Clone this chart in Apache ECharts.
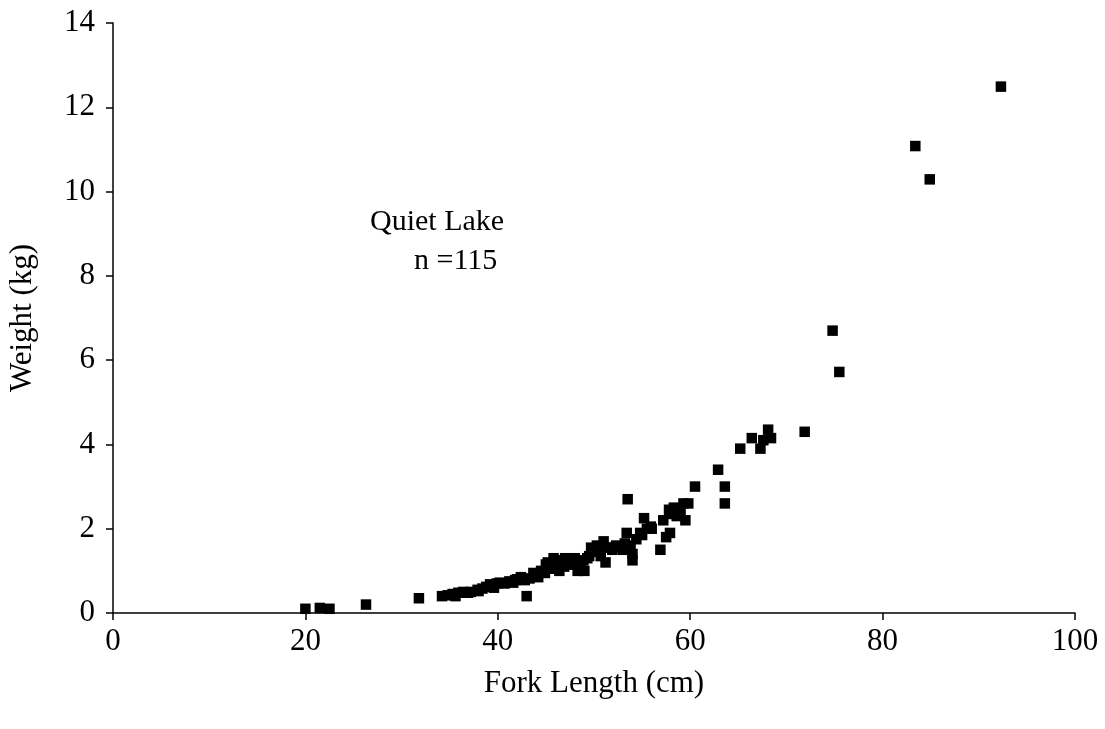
<!DOCTYPE html>
<html>
<head>
<meta charset="utf-8">
<script src="https://cdn.jsdelivr.net/npm/echarts@6/dist/echarts.min.js"></script>
<style>html,body{margin:0;padding:0;background:#fff}#c{width:1105px;height:729px}</style>
</head>
<body>
<div id="c"></div>
<script>
// Fork length (cm)
var forkLength = [
  20.0, 21.5, 22.5, 26.3, 31.8,
  34.2, 34.8, 35.3, 35.6, 35.9, 36.4, 36.9, 37.2,
  37.9, 38.0, 38.4, 38.8, 39.2, 39.6, 39.9, 40.2,
  40.7, 41.2, 41.6, 41.8, 42.0, 42.4, 42.8, 43.0, 43.3, 43.7, 44.1, 44.2, 44.5, 44.9,
  45.0, 45.2, 45.5, 45.8, 45.8, 46.1, 46.4, 46.7, 46.9, 47.0, 47.3, 47.6, 47.8, 48.0, 48.0,
  48.3, 48.6, 48.9, 49.0, 49.3, 49.5, 49.7, 50.0, 50.3, 50.5, 50.7, 51.0, 51.2, 51.5,
  51.9, 52.0, 52.3, 52.6, 53.0, 53.2, 53.4, 53.5, 53.8, 54.0, 54.0, 54.4, 54.8, 55.0,
  55.2, 55.5, 55.9, 56.0, 56.9, 57.2, 57.5, 57.8, 57.9, 58.0, 58.3, 58.6, 58.7, 59.0,
  59.3, 59.5, 59.8, 60.5, 62.9, 63.6, 63.6, 65.2, 66.4, 67.3, 67.6, 68.1, 68.4, 71.9,
  74.8, 75.5, 83.4, 84.9, 92.3
];
// Weight (kg)
var weight = [
  0.10, 0.12, 0.10, 0.20, 0.35,
  0.40, 0.42, 0.45, 0.40, 0.48, 0.50, 0.48, 0.50,
  0.55, 0.52, 0.58, 0.62, 0.68, 0.60, 0.70, 0.72,
  0.70, 0.75, 0.72, 0.78, 0.80, 0.85, 0.78, 0.40, 0.82, 0.95, 0.90, 0.85, 1.00, 0.95,
  1.15, 1.20, 1.05, 1.10, 1.30, 1.25, 1.00, 1.20, 1.10, 1.30, 1.15, 1.25, 1.20, 1.30, 1.15,
  1.00, 1.05, 1.25, 1.00, 1.30, 1.35, 1.55, 1.45, 1.60, 1.50, 1.35, 1.70, 1.20, 1.55,
  1.50, 1.55, 1.60, 1.55, 1.50, 1.65, 1.90, 2.70, 1.60, 1.25, 1.40, 1.75, 1.90, 1.85,
  2.25, 2.00, 2.05, 2.00, 1.50, 2.20, 1.80, 2.45, 1.90, 2.35, 2.50, 2.30, 2.40, 2.45,
  2.60, 2.20, 2.60, 3.00, 3.40, 3.00, 2.60, 3.90, 4.15, 3.90, 4.10, 4.35, 4.15, 4.30,
  6.70, 5.72, 11.08, 10.29, 12.49
];
var xTicks = [0, 20, 40, 60, 80, 100];
var yTicks = [0, 2, 4, 6, 8, 10, 12, 14];
var labelLine1 = 'Quiet Lake';
var labelLine2 = 'n =115';

var points = forkLength.map(function (x, i) { return [x, weight[i]]; });
var font = '"Liberation Serif", "DejaVu Serif", serif';

var chart = echarts.init(document.getElementById('c'), null, {renderer: 'canvas'});
chart.setOption({
  backgroundColor: '#ffffff',
  animation: false,
  grid: {left: 113, right: 30, top: 23, bottom: 116, containLabel: false, outerBoundsMode: 'none'},
  xAxis: {
    type: 'value',
    min: xTicks[0], max: xTicks[xTicks.length - 1], interval: 20,
    name: 'Fork Length (cm)', nameLocation: 'middle', nameGap: 55,
    nameTextStyle: {fontFamily: font, fontSize: 31, color: '#000'},
    axisLine: {show: true, onZero: false, lineStyle: {color: '#000', width: 1.5}},
    axisTick: {show: true, inside: false, length: 7, lineStyle: {color: '#000', width: 1.5}},
    axisLabel: {fontFamily: font, fontSize: 31, color: '#000', margin: 13},
    splitLine: {show: false}
  },
  yAxis: {
    type: 'value',
    min: yTicks[0], max: yTicks[yTicks.length - 1], interval: 2,
    name: 'Weight (kg)', nameLocation: 'middle', nameGap: 75, nameRotate: 90,
    nameTextStyle: {fontFamily: font, fontSize: 31, color: '#000'},
    axisLine: {show: true, onZero: false, lineStyle: {color: '#000', width: 1.5}},
    axisTick: {show: true, inside: false, length: 7, lineStyle: {color: '#000', width: 1.5}},
    axisLabel: {fontFamily: font, fontSize: 31, color: '#000', margin: 18},
    splitLine: {show: false}
  },
  series: [{
    type: 'scatter',
    data: points,
    symbol: 'rect',
    symbolSize: 10.5,
    itemStyle: {color: '#000', opacity: 1},
    emphasis: {disabled: true}
  }],
  graphic: [
    {type: 'text', left: 370, top: 207, style: {text: labelLine1, font: '30px ' + font, fill: '#000'}},
    {type: 'text', left: 414, top: 246, style: {text: labelLine2, font: '30px ' + font, fill: '#000'}}
  ]
});
</script>
</body>
</html>
